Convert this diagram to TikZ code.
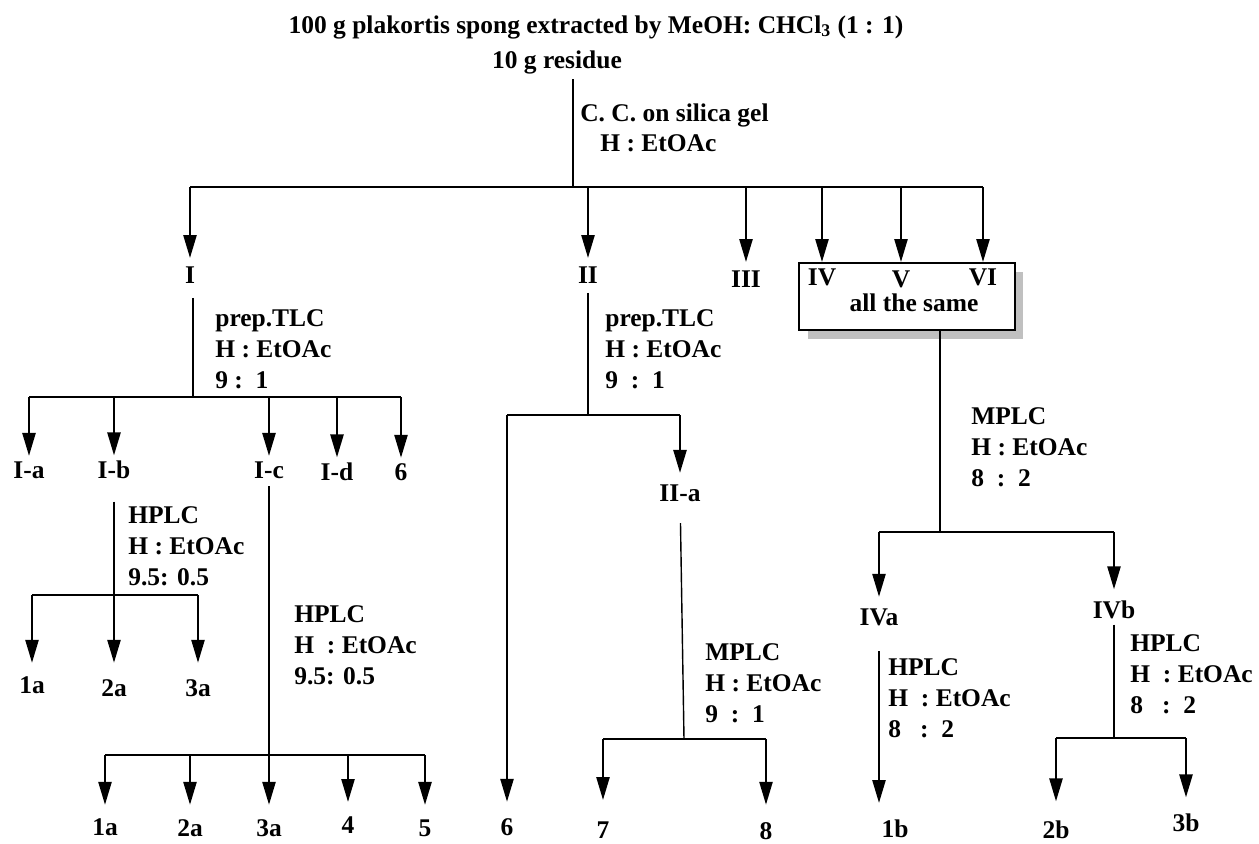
\documentclass[tikz,border=0pt]{standalone}
\usepackage{fontspec}
\setmainfont{Liberation Serif}
\usetikzlibrary{
  arrows.meta,
  positioning,
  shadows
}
\definecolor{ShadowGray}{RGB}{192,192,192}
\tikzset{
  fraction/.style={font=\fontsize{14.5}{17.6}\selectfont\bfseries,inner sep=3pt},
  method/.style={font=\fontsize{14.5}{17.6}\selectfont\bfseries,align=left,anchor=north west,inner sep=0pt},
  poolbox/.style={draw,line width=1.1pt,fill=white,minimum width=4.32cm,minimum height=1.34cm,inner sep=0pt,drop shadow={fill=ShadowGray,opacity=1,shadow xshift=1.7mm,shadow yshift=-1.7mm}},
  splitbar/.style={line width=1.4pt},
  stemline/.style={line width=0.8pt},
  flowarrow/.style={-{Triangle[length=4.6mm,width=2.6mm]},line width=1.4pt,shorten >=#1},
  flowarrow/.default=0pt
}
\begin{document}
\begin{tikzpicture}[x=0.02cm,y=-0.02cm]
\useasboundingbox (0,0) rectangle (1259,843);

% extraction and column
\node[fraction] (title) at (596,27) {100 g plakortis spong extracted by MeOH: CHCl\textsubscript{3} (1 : 1)};
\node[fraction] (residue) at (557,62) {10 g residue};
\coordinate (j0) at (573,187);
\draw[stemline] (residue.south -| j0) -- (j0);
\node[method] (cc) at (580,103) {C. C. on silica gel\\\hspace*{4mm}H : EtOAc};

\node[fraction] (I) at (190,275) {I};
\node[fraction] (II) at (588,275) {II};
\node[fraction] (III) at (746,279) {III};
\node[poolbox] (grp) at (907,296.5) {};
\node[fraction] (IV) at (822,277) {IV};
\node[fraction] (V) at (901,279) {V};
\node[fraction] (VI) at (983,277) {VI};
\node[fraction] (same) at (914,303) {all the same};
\draw[splitbar] (I |- j0) -- (VI |- j0);
\draw[flowarrow=0.6mm] (I |- j0) -- (I);
\draw[flowarrow=0.6mm] (II |- j0) -- (II);
\draw[flowarrow=0.6mm] (III |- j0) -- (III);
\draw[flowarrow] (IV |- j0) -- (IV |- grp.north);
\draw[flowarrow] (V |- j0) -- (V |- grp.north);
\draw[flowarrow] (VI |- j0) -- (VI |- grp.north);

% fraction I
\node[method] (tlcI) at (215,309) {prep.TLC\\H : EtOAc\\9 :\ \ 1};
\coordinate (jI) at (193,397);
\draw[stemline,shorten <=1.8mm] (I.south -| jI) -- (jI);
\node[fraction] (Ia) at (29,470) {I-a};
\node[fraction] (Ib) at (114,470) {I-b};
\node[fraction] (Ic) at (269,470) {I-c};
\node[fraction] (Id) at (337,472) {I-d};
\node[fraction] (six1) at (401,472) {6};
\draw[splitbar] (Ia |- jI) -- (six1 |- jI);
\draw[flowarrow] (Ia |- jI) -- (Ia);
\draw[flowarrow] (Ib |- jI) -- (Ib);
\draw[flowarrow] (Ic |- jI) -- (Ic);
\draw[flowarrow] (Id |- jI) -- (Id);
\draw[flowarrow] (six1 |- jI) -- (six1);

% I-b
\node[method] (hplcIb) at (128,506) {HPLC\\H : EtOAc\\9.5: 0.5};
\coordinate (jIb) at (114,595);
\draw[stemline,shorten <=3.4mm] (Ib) -- (jIb);
\node[fraction] (Ib1a) at (32,685) {1a};
\node[fraction] (Ib2a) at (114,688) {2a};
\node[fraction] (Ib3a) at (198,688) {3a};
\draw[splitbar] (Ib1a |- jIb) -- (Ib3a |- jIb);
\draw[flowarrow=1.6mm] (Ib1a |- jIb) -- (Ib1a);
\draw[flowarrow=2.2mm] (Ib2a |- jIb) -- (Ib2a);
\draw[flowarrow=2.2mm] (Ib3a |- jIb) -- (Ib3a);

% I-c
\node[method] (hplcIc) at (294,605) {HPLC\\H\ \ : EtOAc\\9.5: 0.5};
\coordinate (jIc) at (269,755);
\draw[stemline,shorten <=0.4mm] (Ic) -- (jIc);
\node[fraction] (Ic1a) at (105,827) {1a};
\node[fraction] (Ic2a) at (190,828) {2a};
\node[fraction] (Ic3a) at (269,828) {3a};
\node[fraction] (Ic4) at (348,825) {4};
\node[fraction] (Ic5) at (425,828) {5};
\draw[splitbar] (Ic1a |- jIc) -- (Ic5 |- jIc);
\draw[flowarrow=1.6mm] (Ic1a |- jIc) -- (Ic1a);
\draw[flowarrow=1.8mm] (Ic2a |- jIc) -- (Ic2a);
\draw[flowarrow=1.8mm] (Ic3a |- jIc) -- (Ic3a);
\draw[flowarrow=1.8mm] (Ic4 |- jIc) -- (Ic4);
\draw[flowarrow=1.8mm] (Ic5 |- jIc) -- (Ic5);

% fraction II
\node[method] (tlcII) at (605,309) {prep.TLC\\H : EtOAc\\9\ \ :\ \ 1};
\coordinate (jII) at (588,415);
\draw[stemline,shorten <=0.8mm] (II) -- (jII);
\node[fraction] (six2) at (507,827) {6};
\node[fraction] (IIa) at (680,493) {II-a};
\draw[splitbar] (six2 |- jII) -- (IIa |- jII);
\draw[flowarrow=2.2mm] (six2 |- jII) -- (six2);
\draw[flowarrow=1.2mm] (IIa |- jII) -- (IIa);

% II-a
\node[method] (mplcIIa) at (705,643) {MPLC\\H : EtOAc\\9\ \ :\ \ 1};
\coordinate (jIIa) at (684,739);
\draw[stemline,shorten <=3.2mm] (IIa) -- (jIIa);
\node[fraction] (seven) at (603,830) {7};
\node[fraction] (eight) at (766,831) {8};
\draw[splitbar] (seven |- jIIa) -- (eight |- jIIa);
\draw[flowarrow=3.2mm] (seven |- jIIa) -- (seven);
\draw[flowarrow=2.4mm] (eight |- jIIa) -- (eight);

% pooled IV - VI
\node[method] (mplcIV) at (971,407) {MPLC\\H : EtOAc\\8\ \ :\ \ 2};
\coordinate (jIV) at (940,532);
\draw[stemline] (grp.south -| jIV) -- (jIV);
\node[fraction] (IVa) at (879,617) {IVa};
\node[fraction] (IVb) at (1114,610) {IVb};
\draw[splitbar] (IVa |- jIV) -- (IVb |- jIV);
\draw[flowarrow=1.2mm] (IVa |- jIV) -- (IVa);
\draw[flowarrow=1.2mm] (IVb |- jIV) -- (IVb);

% IVa
\node[method] (hplcIVa) at (888,658) {HPLC\\H\ \ : EtOAc\\8\ \ \ :\ \ 2};
\node[fraction] (b1b) at (895,829) {1b};
\draw[flowarrow=5.2mm,shorten <=4mm] (IVa) -- (IVa |- b1b);

% IVb
\node[method] (hplcIVb) at (1130,634) {HPLC\\H\ \ : EtOAc\\8\ \ \ :\ \ 2};
\coordinate (jIVb) at (1114,738);
\draw[stemline] (IVb) -- (jIVb);
\node[fraction] (b2b) at (1056,830) {2b};
\node[fraction] (b3b) at (1186,823) {3b};
\draw[splitbar] (b2b |- jIVb) -- (b3b |- jIVb);
\draw[flowarrow=2.8mm] (b2b |- jIVb) -- (b2b);
\draw[flowarrow=2.2mm] (b3b |- jIVb) -- (b3b);
\end{tikzpicture}
\end{document}
